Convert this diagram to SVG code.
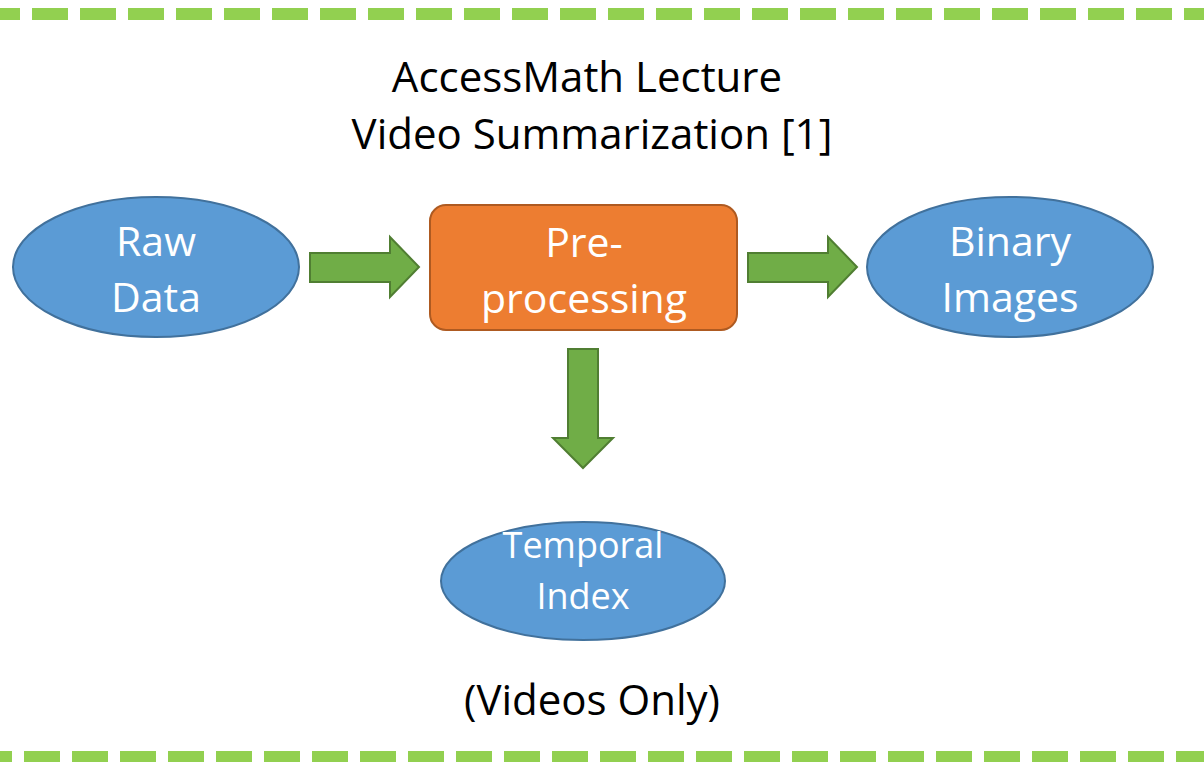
<svg xmlns="http://www.w3.org/2000/svg" width="1204" height="762" viewBox="0 0 1204 762">
<style>
.border{stroke:#92D050;stroke-width:12;stroke-dasharray:36 12;fill:none}
.ell{fill:#5B9BD5;stroke:#41719C;stroke-width:2}
.box{fill:#ED7D31;stroke:#AE5A21;stroke-width:2}
.arr{fill:#70AD47;stroke:#507E32;stroke-width:2;stroke-linejoin:miter}
.t{font-family:"Open Sans","Liberation Sans",sans-serif;text-anchor:middle}
.w{fill:#FFFFFF;font-size:41px}
.k{fill:#000000;font-size:42px}
</style>
<rect width="1204" height="762" fill="#FFFFFF"/>
<g id="borders">
<line class="border" x1="0" y1="14" x2="1204" y2="14" stroke-dashoffset="16"/>
<line class="border" x1="0" y1="757" x2="1204" y2="757" stroke-dashoffset="24"/>
</g>
<g id="title">
<text class="t k" x="587" y="92">AccessMath Lecture</text>
<text class="t k" x="592" y="149">Video Summarization [1]</text>
</g>
<g id="connectors">
<polygon class="arr" points="310,253 390,253 390,237 419,267 390,297 390,282 310,282"/>
<polygon class="arr" points="748,253 828,253 828,237 857,267 828,297 828,282 748,282"/>
<polygon class="arr" points="568,349 598,349 598,438 613,438 583,468 553,438 568,438"/>
</g>
<g id="raw">
<ellipse class="ell" cx="156" cy="267" rx="143" ry="70"/>
<text class="t w" x="156" y="256">Raw</text>
<text class="t w" x="156" y="312">Data</text>
</g>
<g id="pre">
<rect class="box" x="430" y="205" width="307" height="125" rx="16"/>
<text class="t w" x="584" y="257">Pre-</text>
<text class="t w" x="584" y="313">processing</text>
</g>
<g id="binary">
<ellipse class="ell" cx="1010" cy="267" rx="143" ry="70"/>
<text class="t w" x="1010" y="256">Binary</text>
<text class="t w" x="1010" y="312">Images</text>
</g>
<g id="temporal">
<ellipse class="ell" cx="583" cy="581" rx="142" ry="59"/>
<text class="t w" x="583" y="558" style="font-size:36px">Temporal</text>
<text class="t w" x="583" y="609" style="font-size:36px">Index</text>
</g>
<g id="note">
<text class="t k" x="592" y="715">(Videos Only)</text>
</g>
</svg>
